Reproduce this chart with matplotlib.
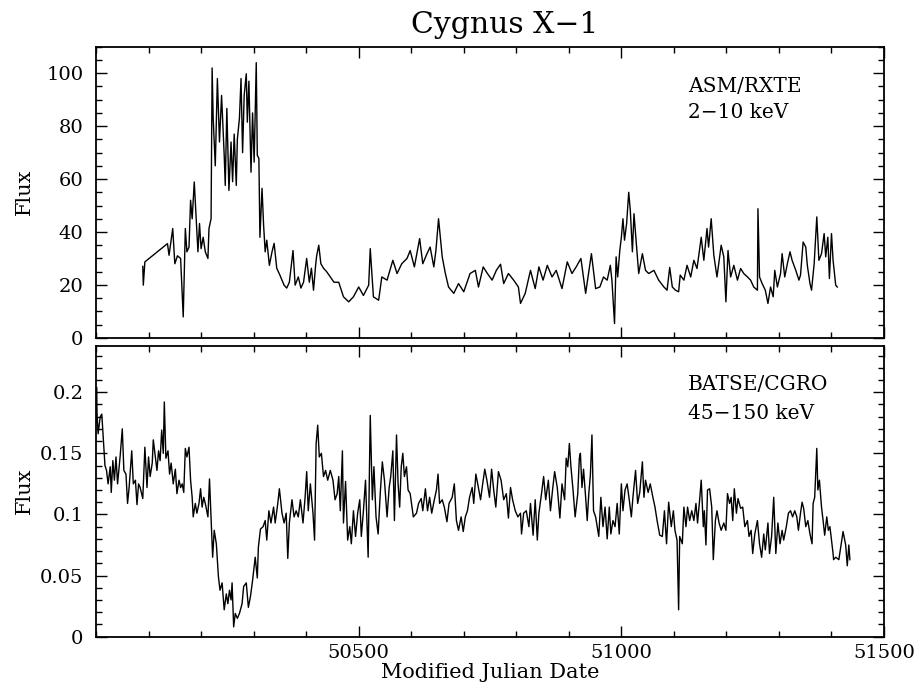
import matplotlib
matplotlib.use("Agg")
import matplotlib.pyplot as plt
from matplotlib.ticker import MultipleLocator

plt.rcParams['font.family'] = 'DejaVu Serif'

# ASM/RXTE 2-10 keV light curve (MJD, flux)
asm_mjd = [50089, 50090, 50093, 50136, 50139, 50146, 50150, 50155, 50161, 50166,
           50170, 50173, 50177, 50180, 50183, 50187, 50191, 50194, 50197, 50200,
           50204, 50208, 50213, 50215, 50219, 50221, 50223, 50227, 50231, 50235,
           50239, 50244, 50246, 50249, 50253, 50257, 50260, 50263, 50267, 50269,
           50273, 50276, 50279, 50282, 50286, 50288, 50291, 50295, 50298, 50301,
           50305, 50307, 50310, 50312, 50316, 50319, 50322, 50325, 50330, 50335,
           50339, 50344, 50350, 50358, 50363, 50368, 50375, 50379, 50385, 50390,
           50395, 50401, 50406, 50410, 50414, 50418, 50420, 50424, 50428, 50433,
           50439, 50446, 50453, 50462, 50471, 50481, 50490, 50500, 50509, 50519,
           50522, 50528, 50538, 50544, 50554, 50565, 50573, 50582, 50592, 50598,
           50606, 50616, 50622, 50630, 50636, 50643, 50647, 50652, 50659, 50665,
           50671, 50681, 50690, 50700, 50712, 50722, 50728, 50737, 50745, 50754,
           50762, 50770, 50776, 50785, 50795, 50804, 50808, 50817, 50827, 50836,
           50843, 50851, 50859, 50868, 50876, 50887, 50897, 50906, 50914, 50923,
           50932, 50943, 50951, 50959, 50966, 50973, 50979, 50982, 50987, 50990,
           50993, 50997, 51000, 51003, 51006, 51010, 51014, 51017, 51021, 51024,
           51029, 51033, 51040, 51046, 51052, 51062, 51071, 51081, 51087, 51092,
           51097, 51103, 51109, 51112, 51119, 51125, 51132, 51138, 51144, 51152,
           51157, 51163, 51166, 51171, 51176, 51182, 51190, 51195, 51199, 51203,
           51208, 51214, 51221, 51227, 51233, 51240, 51246, 51252, 51259, 51260,
           51263, 51268, 51274, 51279, 51284, 51289, 51292, 51297, 51303, 51306,
           51311, 51316, 51321, 51325, 51332, 51338, 51341, 51346, 51351, 51354,
           51359, 51362, 51367, 51372, 51376, 51381, 51386, 51389, 51393, 51396,
           51400, 51403, 51408, 51411]
asm_flux = [27.0, 19.9, 28.7, 35.6, 31.2, 41.3, 28.0, 31.0, 30.0, 7.9,
            41.3, 32.5, 34.3, 52.0, 45.0, 58.9, 43.8, 32.5, 43.2, 33.7,
            38.0, 32.5, 30.0, 41.3, 45.0, 102.0, 83.0, 65.0, 98.0, 74.0,
            91.6, 69.0, 57.6, 86.7, 55.7, 74.0, 59.0, 77.0, 57.6, 75.0,
            83.0, 98.0, 70.0, 91.6, 99.8, 81.5, 97.0, 62.6, 85.0, 66.4,
            104.0, 69.0, 67.8, 38.0, 56.5, 42.5, 32.5, 36.9, 27.4, 32.5,
            35.7, 26.3, 23.7, 19.9, 18.8, 21.0, 33.0, 19.9, 23.0, 18.8,
            21.0, 30.0, 21.0, 26.3, 18.0, 27.4, 31.0, 35.0, 28.0, 26.3,
            25.0, 23.0, 21.0, 21.0, 15.5, 13.6, 15.5, 19.2, 16.0, 19.9,
            33.7, 15.5, 14.2, 23.0, 21.8, 29.3, 24.3, 28.0, 30.0, 33.0,
            26.8, 37.5, 28.0, 31.8, 34.3, 26.8, 33.0, 45.0, 30.6, 24.3,
            19.2, 16.8, 20.5, 17.4, 24.3, 25.5, 19.2, 26.8, 24.3, 21.8,
            25.5, 27.8, 20.5, 24.3, 21.8, 19.2, 13.0, 16.8, 25.5, 18.6,
            26.8, 21.8, 27.4, 23.0, 25.5, 18.6, 28.7, 24.3, 26.8, 30.0,
            16.8, 31.8, 18.6, 19.2, 23.0, 21.8, 27.4, 21.8, 5.4, 30.6,
            23.0, 33.0, 38.0, 45.0, 36.9, 43.2, 55.0, 48.2, 32.5, 46.9,
            34.3, 24.3, 31.8, 25.5, 24.3, 25.5, 21.8, 19.2, 18.0, 26.6,
            19.2, 18.0, 17.4, 23.7, 21.8, 27.4, 23.0, 29.3, 26.2, 38.0,
            29.3, 41.3, 34.3, 45.0, 31.2, 23.0, 35.0, 30.6, 13.6, 33.0,
            23.0, 27.4, 21.8, 26.2, 24.3, 23.0, 21.8, 19.2, 18.0, 48.8,
            23.0, 20.5, 18.0, 13.0, 19.2, 15.5, 25.5, 19.2, 24.3, 31.8,
            23.0, 28.0, 32.5, 29.3, 25.5, 21.8, 23.7, 36.2, 34.3, 27.4,
            20.5, 18.0, 28.0, 45.7, 29.3, 31.8, 39.4, 30.6, 38.0, 22.4,
            39.4, 29.3, 19.9, 19.2]

# BATSE/CGRO 45-150 keV light curve (MJD, flux)
batse_mjd = [50000, 50001, 50002, 50004, 50008, 50011, 50014, 50017, 50020, 50023,
             50027, 50029, 50032, 50035, 50038, 50041, 50046, 50050, 50053, 50057,
             50060, 50063, 50068, 50071, 50075, 50078, 50081, 50084, 50089, 50093,
             50097, 50100, 50103, 50107, 50109, 50112, 50116, 50119, 50122, 50125,
             50128, 50130, 50133, 50137, 50140, 50143, 50147, 50151, 50154, 50158,
             50161, 50164, 50167, 50170, 50173, 50177, 50180, 50183, 50185, 50189,
             50192, 50196, 50199, 50202, 50205, 50208, 50213, 50216, 50219, 50222,
             50225, 50229, 50233, 50236, 50240, 50244, 50248, 50251, 50254, 50257,
             50259, 50262, 50265, 50269, 50273, 50278, 50281, 50286, 50290, 50294,
             50298, 50303, 50307, 50309, 50313, 50318, 50322, 50325, 50329, 50333,
             50338, 50341, 50346, 50349, 50354, 50358, 50362, 50365, 50368, 50373,
             50377, 50381, 50385, 50389, 50394, 50398, 50401, 50404, 50408, 50413,
             50416, 50419, 50422, 50425, 50429, 50433, 50437, 50441, 50446, 50451,
             50455, 50459, 50462, 50465, 50469, 50471, 50475, 50479, 50483, 50486,
             50490, 50494, 50498, 50502, 50505, 50509, 50513, 50518, 50522, 50526,
             50529, 50533, 50537, 50541, 50545, 50549, 50554, 50558, 50561, 50565,
             50568, 50572, 50575, 50578, 50581, 50584, 50587, 50591, 50594, 50598,
             50604, 50610, 50614, 50619, 50622, 50627, 50631, 50635, 50639, 50644,
             50648, 50651, 50654, 50659, 50663, 50668, 50672, 50678, 50682, 50686,
             50690, 50695, 50699, 50703, 50707, 50711, 50716, 50719, 50723, 50727,
             50732, 50736, 50740, 50744, 50749, 50753, 50757, 50761, 50766, 50771,
             50776, 50781, 50785, 50789, 50793, 50798, 50803, 50808, 50810, 50814,
             50819, 50824, 50827, 50832, 50836, 50840, 50843, 50848, 50852, 50856,
             50861, 50865, 50869, 50873, 50878, 50883, 50887, 50892, 50895, 50898,
             50901, 50904, 50908, 50912, 50917, 50920, 50922, 50925, 50928, 50932,
             50935, 50938, 50941, 50944, 50947, 50951, 50954, 50957, 50961, 50965,
             50969, 50973, 50977, 50980, 50984, 50988, 50992, 50996, 51000, 51003,
             51007, 51011, 51015, 51019, 51022, 51027, 51031, 51035, 51040, 51043,
             51046, 51051, 51055, 51060, 51064, 51068, 51073, 51078, 51082, 51086,
             51090, 51095, 51099, 51102, 51106, 51109, 51111, 51116, 51119, 51123,
             51126, 51130, 51134, 51138, 51142, 51145, 51149, 51152, 51156, 51158,
             51161, 51164, 51168, 51172, 51175, 51179, 51182, 51186, 51190, 51195,
             51199, 51202, 51206, 51209, 51212, 51215, 51219, 51222, 51227, 51231,
             51235, 51240, 51243, 51247, 51250, 51254, 51259, 51263, 51267, 51271,
             51274, 51279, 51282, 51286, 51290, 51294, 51298, 51302, 51306, 51309,
             51314, 51318, 51322, 51326, 51330, 51334, 51337, 51341, 51344, 51347,
             51351, 51355, 51359, 51363, 51365, 51368, 51372, 51374, 51377, 51381,
             51384, 51387, 51391, 51394, 51397, 51400, 51403, 51404, 51408, 51414,
             51422, 51427, 51430, 51433, 51435]
batse_flux = [0.175, 0.204, 0.182, 0.166, 0.180, 0.182, 0.161, 0.140, 0.136, 0.125,
              0.139, 0.118, 0.144, 0.128, 0.147, 0.125, 0.148, 0.170, 0.136, 0.133,
              0.109, 0.122, 0.152, 0.125, 0.128, 0.108, 0.125, 0.122, 0.113, 0.155,
              0.122, 0.147, 0.131, 0.142, 0.161, 0.150, 0.136, 0.152, 0.144, 0.169,
              0.150, 0.192, 0.146, 0.152, 0.133, 0.142, 0.125, 0.137, 0.117, 0.128,
              0.122, 0.125, 0.118, 0.154, 0.147, 0.155, 0.128, 0.114, 0.098, 0.109,
              0.101, 0.109, 0.121, 0.106, 0.114, 0.109, 0.098, 0.129, 0.098, 0.065,
              0.087, 0.076, 0.049, 0.038, 0.044, 0.022, 0.035, 0.027, 0.038, 0.030,
              0.044, 0.008, 0.019, 0.015, 0.019, 0.027, 0.041, 0.044, 0.024, 0.033,
              0.046, 0.065, 0.048, 0.073, 0.088, 0.090, 0.095, 0.079, 0.103, 0.093,
              0.106, 0.093, 0.109, 0.121, 0.101, 0.093, 0.101, 0.064, 0.093, 0.112,
              0.098, 0.103, 0.098, 0.112, 0.093, 0.114, 0.135, 0.103, 0.125, 0.101,
              0.079, 0.158, 0.173, 0.147, 0.150, 0.131, 0.136, 0.128, 0.136, 0.128,
              0.112, 0.117, 0.131, 0.103, 0.152, 0.093, 0.127, 0.079, 0.090, 0.076,
              0.103, 0.082, 0.101, 0.112, 0.082, 0.103, 0.128, 0.065, 0.181, 0.112,
              0.139, 0.098, 0.084, 0.117, 0.143, 0.128, 0.098, 0.122, 0.131, 0.152,
              0.095, 0.165, 0.125, 0.106, 0.139, 0.150, 0.131, 0.139, 0.120, 0.117,
              0.098, 0.101, 0.109, 0.113, 0.103, 0.121, 0.103, 0.114, 0.101, 0.112,
              0.120, 0.133, 0.109, 0.112, 0.106, 0.094, 0.109, 0.114, 0.125, 0.095,
              0.087, 0.098, 0.086, 0.098, 0.103, 0.114, 0.122, 0.109, 0.133, 0.124,
              0.112, 0.125, 0.137, 0.128, 0.114, 0.137, 0.120, 0.106, 0.135, 0.128,
              0.112, 0.117, 0.097, 0.122, 0.112, 0.103, 0.098, 0.101, 0.084, 0.101,
              0.103, 0.090, 0.109, 0.083, 0.112, 0.079, 0.101, 0.117, 0.131, 0.112,
              0.128, 0.103, 0.120, 0.135, 0.122, 0.097, 0.125, 0.112, 0.146, 0.139,
              0.158, 0.139, 0.120, 0.098, 0.117, 0.146, 0.150, 0.122, 0.137, 0.114,
              0.095, 0.117, 0.132, 0.165, 0.103, 0.098, 0.090, 0.082, 0.114, 0.090,
              0.106, 0.080, 0.106, 0.084, 0.095, 0.090, 0.109, 0.084, 0.125, 0.103,
              0.120, 0.125, 0.112, 0.098, 0.114, 0.136, 0.109, 0.118, 0.143, 0.114,
              0.128, 0.118, 0.125, 0.114, 0.106, 0.095, 0.083, 0.082, 0.103, 0.076,
              0.110, 0.090, 0.103, 0.087, 0.079, 0.022, 0.082, 0.076, 0.106, 0.090,
              0.106, 0.095, 0.103, 0.095, 0.109, 0.093, 0.112, 0.128, 0.090, 0.103,
              0.075, 0.120, 0.121, 0.106, 0.063, 0.095, 0.103, 0.093, 0.087, 0.093,
              0.087, 0.117, 0.109, 0.114, 0.095, 0.121, 0.101, 0.113, 0.105, 0.106,
              0.090, 0.095, 0.082, 0.087, 0.068, 0.084, 0.095, 0.076, 0.065, 0.084,
              0.071, 0.093, 0.068, 0.082, 0.114, 0.068, 0.093, 0.076, 0.087, 0.079,
              0.090, 0.101, 0.103, 0.098, 0.103, 0.098, 0.087, 0.101, 0.110, 0.105,
              0.090, 0.095, 0.084, 0.076, 0.109, 0.114, 0.154, 0.120, 0.128, 0.106,
              0.095, 0.083, 0.098, 0.087, 0.090, 0.079, 0.068, 0.063, 0.065, 0.063,
              0.086, 0.075, 0.058, 0.075, 0.063]

x_ticks = [50500, 51000, 51500]
asm_yticks = [0, 20, 40, 60, 80, 100]
batse_yticks = [0, 0.05, 0.1, 0.15, 0.2]
batse_ylabels = ["0", "0.05", "0.1", "0.15", "0.2"]

fig = plt.figure(figsize=(9.18, 6.88), dpi=100)
ax1 = fig.add_axes([0.1046, 0.509, 0.8584, 0.423])
ax2 = fig.add_axes([0.1046, 0.0746, 0.8584, 0.4229])

ax1.plot(asm_mjd, asm_flux, color='black', lw=1.0)
ax2.plot(batse_mjd, batse_flux, color='black', lw=1.0)

for ax in (ax1, ax2):
    ax.set_xlim(50000, 51500)
    ax.xaxis.set_major_locator(MultipleLocator(500))
    ax.xaxis.set_minor_locator(MultipleLocator(100))
    ax.tick_params(which='both', direction='in', top=True, right=True,
                   labelsize=14, width=1.0)
    ax.tick_params(axis='x', pad=5)
    ax.tick_params(axis='y', pad=9)
    ax.tick_params(which='major', length=8)
    ax.tick_params(which='minor', length=4)
    for s in ax.spines.values():
        s.set_linewidth(1.3)
    ax.set_ylabel("Flux", fontsize=15)
    # both "Flux" labels sit in the same column, as in the original
    ax.yaxis.set_label_coords(-0.079, 0.5)

ax1.set_ylim(0, 110)
ax1.set_yticks(asm_yticks)
ax1.yaxis.set_minor_locator(MultipleLocator(5))
ax1.set_xticks(x_ticks)
ax1.set_xticklabels([])

ax2.set_ylim(0, 0.238)
ax2.set_yticks(batse_yticks)
ax2.set_yticklabels(batse_ylabels)
ax2.yaxis.set_minor_locator(MultipleLocator(0.01))
ax2.set_xticks(x_ticks)
ax2.set_xticklabels([str(t) for t in x_ticks])
ax2.set_xlabel("Modified Julian Date", fontsize=15, labelpad=1)

ax1.text(0.751, 0.844, "ASM/RXTE", transform=ax1.transAxes, fontsize=14.5, va='baseline')
ax1.text(0.751, 0.755, "2\u221210 keV", transform=ax1.transAxes, fontsize=14.5, va='baseline')
ax2.text(0.751, 0.848, "BATSE/CGRO", transform=ax2.transAxes, fontsize=14.5, va='baseline')
ax2.text(0.751, 0.748, "45\u2212150 keV", transform=ax2.transAxes, fontsize=14.5, va='baseline')

fig.text(505 / 918, 1 - 33 / 688, "Cygnus X\u22121", ha='center', va='baseline', fontsize=21.5)

fig.savefig("out.png", dpi=100)
